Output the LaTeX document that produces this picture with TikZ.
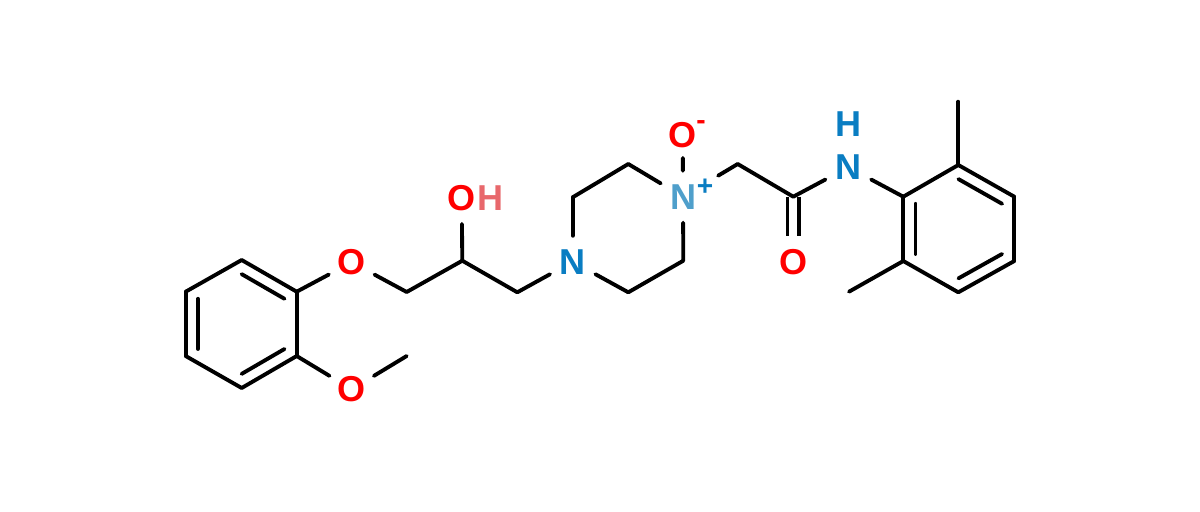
\documentclass[tikz,border=0pt]{standalone}
\usepackage{fontspec}
\setmainfont{Liberation Sans}
\usetikzlibrary{calc}
\definecolor{oxygen}{HTML}{FF0000}
\definecolor{nitrogen}{HTML}{0A7DC2}
\definecolor{paleh}{HTML}{E8686C}
\definecolor{palen}{HTML}{4F9FCB}
\begin{document}
\begin{tikzpicture}[x=0.02cm, y=-0.02cm, node distance={0.86cm}, line width=2.2pt, line cap=round, line join=round,
	main/.style = {circle, inner sep=0pt, minimum size=0.96cm, font=\fontsize{20.5}{24}\selectfont\bfseries},
	charge/.style = {inner sep=0pt, font=\fontsize{16}{18}\selectfont\bfseries}]
		\useasboundingbox (0,0) rectangle (1200,511);
		\coordinate (1) at (241.7,260);
		\coordinate (2) at (296.7,291.7);
		\coordinate (3) at (296.7,356);
		\coordinate (4) at (241.7,388);
		\coordinate (5) at (185.7,356);
		\coordinate (6) at (185.7,291.7);
		\coordinate (37) at (241.3,324);
		\node[main, oxygen] (7) at (351.7,262.3) {O};
		\coordinate (8) at (406.7,292);
		\coordinate (9) at (462.3,260.7);
		\node[main, oxygen] (10) at (461.7,198) {O};
		\node[main, paleh] (11) at (490,198) {H};
		\coordinate (12) at (517.3,292.3);
		\node[main, nitrogen] (13) at (572.7,261.7) {N};
		\coordinate (14) at (572.7,197.3);
		\coordinate (15) at (628.3,164);
		\node[main, palen] (16) at (683,196.7) {N};
		\node[charge, nitrogen] (36) at (705,187) {+};
		\coordinate (17) at (683.3,260.7);
		\coordinate (18) at (628.3,292.3);
		\node[main, oxygen] (19) at (682.7,135) {O};
		\node[charge, oxygen] (35) at (701,125) {-};
		\coordinate (20) at (737.7,164);
		\coordinate (21) at (793.3,196.7);
		\node[main, oxygen] (22) at (793.3,261.7) {O};
		\node[main, nitrogen] (23) at (848.3,167.3) {N};
		\node[main, nitrogen] (24) [above of=23] {H};
		\coordinate (25) at (903.3,196.7);
		\coordinate (26) at (958.3,165);
		\coordinate (27) at (1014.3,196.7);
		\coordinate (28) at (1014.3,261);
		\coordinate (29) at (958.3,292.3);
		\coordinate (30) at (903.3,261);
		\coordinate (38) at (958.8,229);
		\coordinate (31) at (958.3,101.7);
		\coordinate (32) at (849,291.7);
		\node[main, oxygen] (33) at (351.7,389.3) {O};
		\coordinate (34) at (406.7,356);
		\path
		(21) edge[double, double distance=4.4pt, line cap=butt] (22)
		(1) edge (2) (2) edge (3)
		(3) edge (4) (4) edge (5)
		(5) edge (6) (6) edge (1)
		(2) edge (7) (7) edge (8)
		(8) edge (9) (9) edge (10)
		(9) edge (12) (12) edge (13)
		(13) edge (14) (14) edge (15)
		(15) edge (16) (16) edge (17)
		(17) edge (18) (18) edge (13)
		(16) edge[shorten >=-0.06cm] (19) (16) edge[shorten <=0.3cm] (20)
		(20) edge (21) (21) edge (23)
		(23) edge (25) (25) edge (26)
		(26) edge (27) (27) edge (28)
		(28) edge (29) (29) edge (30)
		(30) edge (25) (26) edge (31)
		(30) edge (32) (3) edge (33)
		(33) edge (34);
		\foreach \a/\b/\c in {1/2/37, 3/4/37, 5/6/37, 25/30/38, 26/27/38, 28/29/38}
			\draw ($(\a)!.22!(\c)$) -- ($(\b)!.22!(\c)$);
	\end{tikzpicture}
\end{document}
